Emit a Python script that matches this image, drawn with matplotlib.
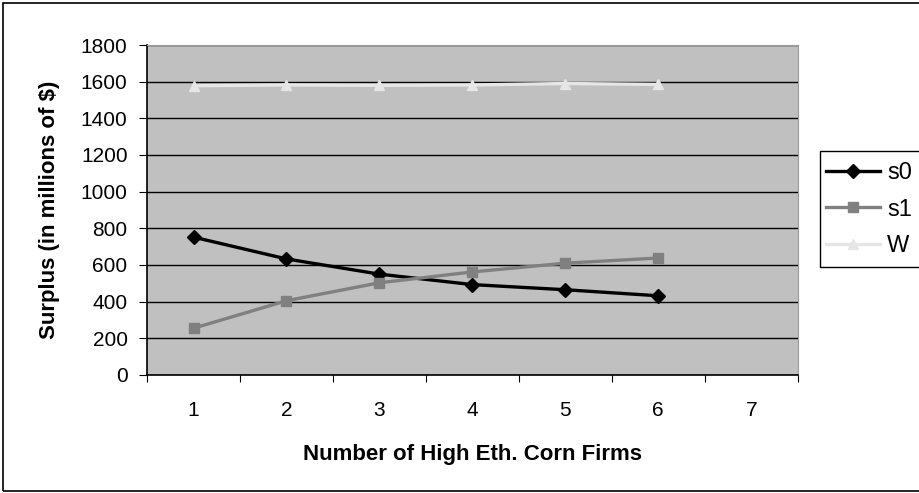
import matplotlib
matplotlib.use("Agg")
import matplotlib.pyplot as plt
from matplotlib.patches import Rectangle

plt.rcParams['font.family'] = ['Liberation Sans', 'DejaVu Sans']

firms = [1, 2, 3, 4, 5, 6]
s0 = [752, 633, 550, 493, 465, 432]
s1 = [255, 405, 503, 562, 610, 638]
W = [1578, 1582, 1580, 1582, 1590, 1585]
xticks = [1, 2, 3, 4, 5, 6, 7]
yticks = list(range(0, 2000, 200))

W_PX, H_PX = 919, 493
fig = plt.figure(figsize=(W_PX / 100, H_PX / 100), dpi=100)
# outer chart frame, runs off the right edge
fig.patches.append(Rectangle((3 / W_PX, 2 / H_PX), 1.0, 1 - 5 / H_PX, transform=fig.transFigure,
                             fill=False, edgecolor='black', linewidth=1.2))
ax = fig.add_axes([0.16, 0.2394, 0.708, 0.6693])
ax.set_facecolor('#c0c0c0')

ax.plot(firms, s0, color='black', marker='D', markersize=7.5, linewidth=2.4, label='s0')
ax.plot(firms, s1, color='#808080', marker='s', markersize=7.5, linewidth=2.4, label='s1')
ax.plot(firms, W, color='#e6e6e6', marker='^', markersize=7.5, linewidth=2.4, label='W')

ax.set_xlim(0.5, 7.5)
ax.set_ylim(0, 1800)
# category boundaries get the tick marks, centres get the labels
ax.set_xticks([x + 0.5 for x in range(0, 8)], minor=False)
ax.set_xticklabels([])
ax.set_xticks(xticks, minor=True)
ax.set_xticklabels([str(x) for x in xticks], minor=True, fontsize=15)
ax.tick_params(axis='x', which='minor', length=0, pad=19)
ax.tick_params(axis='x', which='major', length=5, direction='out')
ax.set_yticks(yticks)
ax.set_yticklabels([str(y) for y in yticks], fontsize=15)
ax.tick_params(axis='y', length=6, pad=8, direction='out')
ax.grid(axis='y', color='black', linewidth=1)
ax.set_axisbelow(True)

for side in ['top', 'right']:
    ax.spines[side].set_color('#9a9a9a')
for side in ['left', 'bottom']:
    ax.spines[side].set_color('black')
    ax.spines[side].set_linewidth(1.2)

ax.set_xlabel('Number of High Eth. Corn Firms', fontsize=16, fontweight='bold', labelpad=17)
ax.set_ylabel('Surplus (in millions of $)', fontsize=16, fontweight='bold', labelpad=15)

# legend box drawn separately so it can run past the right edge
fig.patches.append(Rectangle((820 / W_PX, 1 - 267 / H_PX), 0.2, 116 / H_PX,
                             transform=fig.transFigure, fill=False,
                             edgecolor='black', linewidth=1))
fig.legend(loc='upper left', bbox_to_anchor=(826 / W_PX, 1 - 162 / H_PX), fontsize=17,
           frameon=False, handlelength=2.3, borderpad=0, labelspacing=0.62,
           handletextpad=0.3, borderaxespad=0)

fig.savefig('out.png', dpi=100)
